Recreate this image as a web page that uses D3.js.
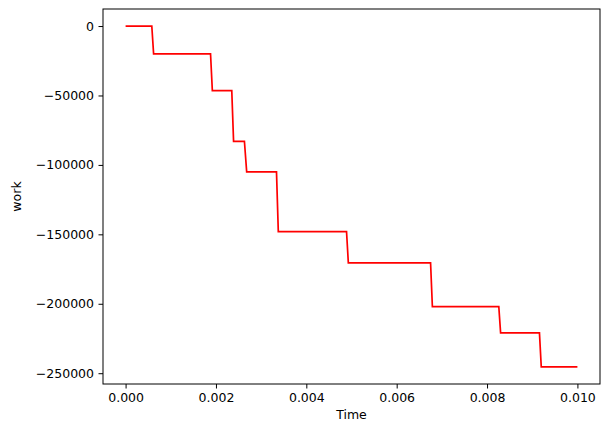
<!DOCTYPE html><html><head><script src="https://cdn.jsdelivr.net/npm/d3@7"></script>
<style>body{margin:0;background:#fff}text{font-family:"DejaVu Sans",sans-serif}</style></head><body><script>
const times=[0,0.00058,0.00062,0.00188,0.00192,0.00235,0.00239,0.00263,0.00268,0.00334,0.00338,0.00489,0.00493,0.00675,0.00679,0.00826,0.0083,0.00916,0.0092,0.010];
const work=[0,0,-20000,-20000,-46500,-46500,-83000,-83000,-105000,-105000,-148000,-148000,-170500,-170500,-202000,-202000,-221000,-221000,-245500,-245500];
const xTicks=[0,0.002,0.004,0.006,0.008,0.010];
const yTicks=[0,-50000,-100000,-150000,-200000,-250000];
const W=609,H=432,L=103,R=600,T=9,B=384;
const svg=d3.select("body").append("svg").attr("width",W).attr("height",H);
const x=d3.scaleLinear().domain([-0.0005,0.0105]).range([L,R]);
const ymin=d3.min(work),ymax=d3.max(work),pad=(ymax-ymin)*0.05;
const y=d3.scaleLinear().domain([ymin-pad,ymax+pad]).range([B,T]);
const ax=svg.append("g").attr("transform",`translate(0,${B})`).call(d3.axisBottom(x).tickValues(xTicks).tickFormat(d3.format(".3f")).tickSize(4.5).tickPadding(4.5));
const ay=svg.append("g").attr("transform",`translate(${L},0)`).call(d3.axisLeft(y).tickValues(yTicks).tickFormat(d=>d<0?"\u2212"+Math.abs(d):d).tickSize(4.5).tickPadding(4.5));
[ax,ay].forEach(g=>{g.selectAll("text").attr("font-size",12.5).attr("fill","#000");g.select(".domain").remove();g.selectAll("line").attr("stroke","#000").attr("stroke-width",1);});
const line=d3.line().x((d,i)=>x(times[i])).y(d=>y(d));
svg.append("path").datum(work).attr("d",line).attr("fill","none").attr("stroke","red").attr("stroke-width",1.7);
svg.append("rect").attr("x",L).attr("y",T).attr("width",R-L).attr("height",B-T).attr("fill","none").attr("stroke","#000").attr("stroke-width",1);
svg.append("text").attr("x",(L+R)/2).attr("y",419).attr("text-anchor","middle").attr("font-size",12.5).text("Time");
svg.append("text").attr("transform",`translate(21,${(T+B)/2}) rotate(-90)`).attr("text-anchor","middle").attr("font-size",12.5).text("work");
</script></body></html>
